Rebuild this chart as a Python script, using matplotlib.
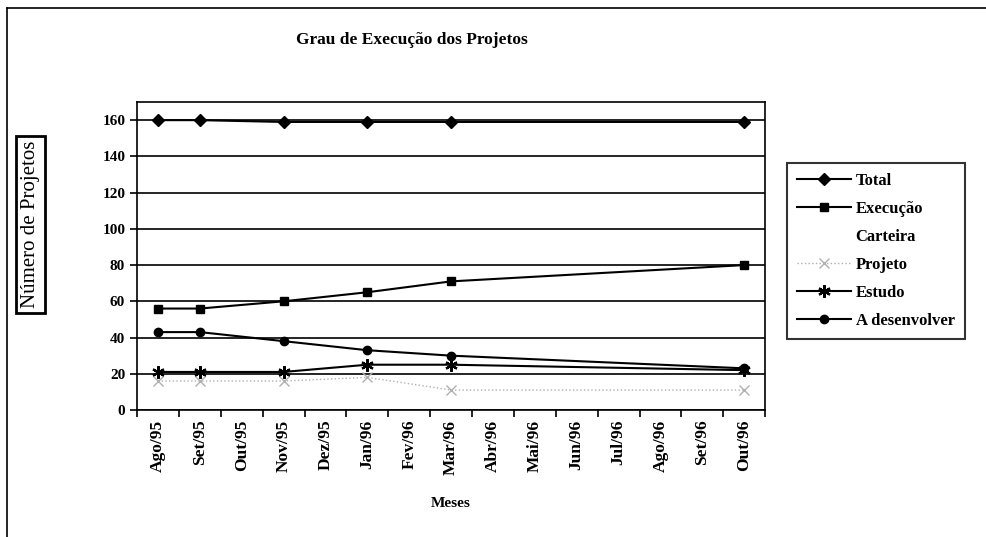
import matplotlib
matplotlib.use("Agg")
import matplotlib.pyplot as plt
from matplotlib.lines import Line2D
import numpy as np

months = ["Ago/95", "Set/95", "Out/95", "Nov/95", "Dez/95", "Jan/96", "Fev/96",
          "Mar/96", "Abr/96", "Mai/96", "Jun/96", "Jul/96", "Ago/96", "Set/96", "Out/96"]
data_months = ["Ago/95", "Set/95", "Nov/95", "Jan/96", "Mar/96", "Out/96"]
total = [160, 160, 159, 159, 159, 159]
execucao = [56, 56, 60, 65, 71, 80]
projeto = [16, 16, 16, 18, 11, 11]
estudo = [21, 21, 21, 25, 25, 22]
a_desenvolver = [43, 43, 38, 33, 30, 23]

plt.rcParams['font.family'] = ['Liberation Serif', 'DejaVu Serif']

fig = plt.figure(figsize=(9.86, 5.37), dpi=100)
ax = fig.add_axes([0.139, 0.2365, 0.637, 0.5735])

xpos = [months.index(m) for m in data_months]

ax.plot(xpos, total, color='black', lw=1.5, marker='D', ms=6, label='Total')
ax.plot(xpos, execucao, color='black', lw=1.5, marker='s', ms=6, label='Execução')
ax.plot(xpos, projeto, color='#b0b0b0', lw=1, ls=':', marker='x', ms=7, mew=1, label='Projeto')
ax.plot(xpos, estudo, color='black', lw=1.5, marker=(6, 2, 0), ms=9, mew=1.6, label='Estudo')
ax.plot(xpos, a_desenvolver, color='black', lw=1.5, marker='o', ms=6, label='A desenvolver')

ax.set_xlim(-0.5, len(months) - 0.5)
ax.set_ylim(0, 170)
ax.set_yticks(np.arange(0, 161, 20))
ax.yaxis.grid(True, color='black', lw=1.2)
ax.set_axisbelow(True)
ax.set_xticks(np.arange(len(months)))
ax.set_xticklabels(months, rotation=90, fontsize=12.5, fontweight='bold')
ax.set_xticks(np.arange(-0.5, len(months), 1), minor=True)
ax.tick_params(axis='x', which='major', length=0, pad=7)
ax.tick_params(axis='x', which='minor', length=5, width=1.2, direction='out')
ax.tick_params(axis='y', length=5, width=1.2, labelsize=11, direction='out')
for lbl in ax.get_yticklabels():
    lbl.set_fontweight('bold')
for s in ax.spines.values():
    s.set_linewidth(1.2)

ax.set_xlabel("Meses", fontsize=11, fontweight='bold', labelpad=16)

fig.text(0.418, 0.925, "Grau de Execução dos Projetos", ha='center', va='center',
         fontsize=12.5, fontweight='bold')

fig.text(0.031, 0.582, "Número de Projetos", rotation=90, ha='center', va='center',
         fontsize=15, bbox=dict(boxstyle='square,pad=0.25', fc='white', ec='black', lw=2))

handles, labels = ax.get_legend_handles_labels()
carteira = Line2D([], [], ls='none', marker=None)
handles.insert(2, carteira)
labels.insert(2, 'Carteira')
leg = fig.legend(handles, labels, loc='upper left', bbox_to_anchor=(0.790, 0.712),
                 frameon=True, fancybox=False, edgecolor='black',
                 handlelength=3.2, handletextpad=0.3, labelspacing=0.72,
                 borderpad=0.6, prop={'weight': 'bold', 'size': 12})
leg.get_frame().set_linewidth(1.5)

# figure frame
fig.add_artist(Line2D([0.007, 0.007], [0.0, 0.985], color='black', lw=1.2, transform=fig.transFigure))
fig.add_artist(Line2D([0.007, 1.0], [0.985, 0.985], color='black', lw=1.2, transform=fig.transFigure))

fig.savefig("out.png", dpi=100)
